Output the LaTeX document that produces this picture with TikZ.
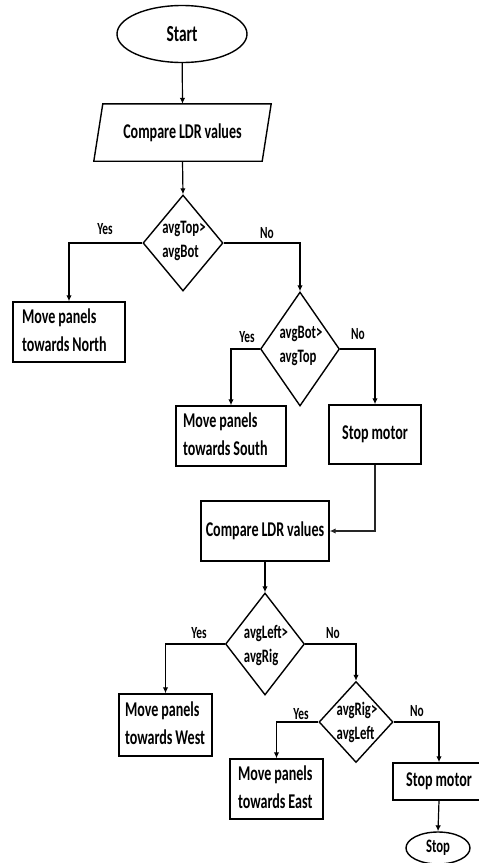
\documentclass[tikz,border=0pt]{standalone}
\usepackage{fontspec}
\setmainfont{Carlito}[FakeStretch=0.67, WordSpace=0.9]
\usetikzlibrary{shapes.geometric,arrows.meta}
\newcommand\twoline[3]{\makebox[#1][l]{\hspace*{#2}\begin{tabular}{@{}l@{}}#3\end{tabular}}}
\begin{document}
\begin{tikzpicture}[x=1pt,y=-1pt,
  arr/.style={-{Latex[length=6pt,width=5.5pt]}, line width=1.2pt},
  box/.style={draw, rectangle, line width=1.4pt, inner sep=0pt, font=\bfseries\fontsize{21}{28}\selectfont},
  dia/.style={draw, diamond, line width=1.4pt, inner sep=0pt},
  dtext/.style={align=left, inner sep=0pt, font=\bfseries\fontsize{19}{24}\selectfont},
  lab/.style={inner sep=0pt, font=\bfseries\fontsize{17}{20}\selectfont},
  term/.style={draw, ellipse, line width=1.4pt, inner sep=0pt, font=\bfseries\fontsize{23}{26}\selectfont}]

\useasboundingbox (0,0) rectangle (479,863);
\clip (0,0) rectangle (479,863);

% terminals
\node[term, minimum width=130pt, minimum height=57pt] (start) at (182,34) {Start};

% parallelogram
\node[inner sep=0pt, minimum width=168pt, minimum height=57pt, font=\bfseries\fontsize{21}{25}\selectfont] (cmp1) at (182.5,132.5) {Compare LDR values};
\draw[line width=1.4pt] ([xshift=4.5pt]cmp1.north west) -- ([xshift=4.5pt]cmp1.north east) -- ([xshift=-4.5pt]cmp1.south east) -- ([xshift=-4.5pt]cmp1.south west) -- cycle;

% first decision
\node[dia, minimum width=80pt, minimum height=96pt] (d1) at (183,243) {};
\node[dtext] (t1) at (184,241) {avgTop>\\avgBot};

\node[box, minimum height=60pt] (north) at (69,332) {\twoline{112pt}{9pt}{Move panels\\towards North}};

\node[dia, minimum width=79pt, minimum height=114pt] (d2) at (300,349) {};
\node[dtext] (t2) at (301,346) {avgBot>\\avgTop};

\node[box, minimum height=60pt] (south) at (231,436) {\twoline{110pt}{7pt}{Move panels\\towards South}};
\node[box, minimum width=92pt, minimum height=59pt] (stop1) at (375,434.5) {Stop motor};

% second compare
\node[box, minimum width=128pt, minimum height=60pt] (cmp2) at (265,531) {Compare LDR values};

\node[dia, minimum width=79pt, minimum height=102pt] (d3) at (265,644) {};
\node[dtext] (t3) at (266,645) {avgLeft>\\avgRig};

\node[box, minimum height=62pt] (west) at (165.5,725) {\twoline{93pt}{6pt}{Move panels\\towards West}};

\node[dia, minimum width=74pt, minimum height=81pt] (d4) at (356,722) {};
\node[dtext] (t4) at (357,722) {avgRig>\\avgLeft};

\node[box, minimum height=60pt] (east) at (276.5,789) {\twoline{93pt}{8pt}{Move panels\\towards East}};
\node[box, minimum width=92pt, minimum height=37pt] (stop2) at (439,781.5) {Stop motor};

\node[term, minimum width=64pt, minimum height=32pt, font=\bfseries\fontsize{19}{22}\selectfont] (stopE) at (438,848) {Stop};

% connectors
\draw[arr] (start) -- (cmp1.north);
\draw[arr] (cmp1.south) -- (d1.north);
\draw[arr] (d1.west) -| (north.north);
\draw[arr] (d1.east) -| (d2.north);
\draw[arr] (d2.west) -| (south.north);
\draw[arr] (d2.east) -| (stop1.north);
\draw[arr, draw=black!85] (stop1.south) |- (cmp2.east);
\draw[arr] (cmp2.south) -- (d3.north);
\draw[arr] (d3.west) -| (west.north);
\draw[arr] (d3.east) -| (d4.north);
\draw[arr] (d4.west) -| (east.north);
\draw[arr] (d4.east) -| (stop2.north);
\draw[arr] (stop2.south) -- (stopE.north);

% labels
\node[lab] (y1) at (105,229) {Yes};
\node[lab] (n1) at (267,233) {No};
\node[lab] (y2) at (247,337) {Yes};
\node[lab] (n2) at (358,334) {No};
\node[lab] (y3) at (199,633) {Yes};
\node[lab] (n3) at (333,633) {No};
\node[lab] (y4) at (301,714) {Yes};
\node[lab] (n4) at (417,711) {No};
\end{tikzpicture}
\end{document}
